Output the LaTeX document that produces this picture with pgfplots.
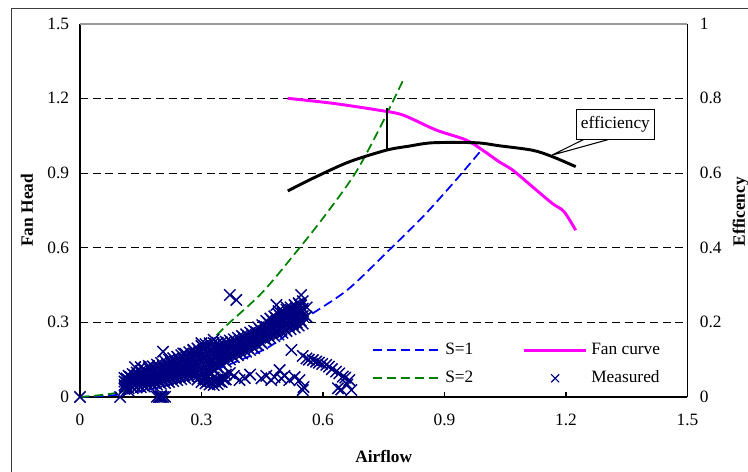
\documentclass[border=0pt]{standalone}
\usepackage{fontspec}
\setmainfont{Liberation Serif}
\usepackage{pgfplots}
\pgfplotsset{compat=1.18}
\definecolor{navyx}{RGB}{0,0,128}
\definecolor{greenS}{RGB}{0,128,0}
\definecolor{blueS}{RGB}{0,0,255}
\definecolor{fanc}{RGB}{255,0,255}
\definecolor{framec}{RGB}{60,60,60}
\newcommand\ff{\fontsize{13}{15}\selectfont}
\pgfplotsset{
  legline51/.style={legend image code/.code={\draw[##1] (0pt,0pt) -- (51pt,0pt);}},
  legline47/.style={legend image code/.code={\draw[##1] (0pt,0pt) -- (47pt,0pt);}},
  legmark47/.style={legend image code/.code={\draw[mark repeat=2, mark phase=2, ##1] plot coordinates {(0pt,0pt) (23.5pt,0pt) (47pt,0pt)};}},
}

\begin{document}
\begin{tikzpicture}
\useasboundingbox (-60pt,-55.5pt) rectangle (501pt,297.75pt);
\draw[framec, line width=0.9pt] (-51.2pt,-80pt) -- (-51.2pt,291.5pt) -- (540pt,291.5pt);

% ---- left axis: fan head ----
\begin{axis}[
  at={(0pt,0pt)}, anchor=south west,
  scale only axis, width=455.6pt, height=280pt,
  xmin=0, xmax=1.5, ymin=0, ymax=1.5,
  axis x line*=bottom, axis y line*=left,
  axis line style={-, black, line width=0.9pt},
  xtick={0,0.3,...,1.5}, ytick={0,0.3,...,1.5},
  tick align=inside, major tick length=3.5pt,
  ytick style={draw=none},
  xtick style={black, line width=0.8pt},
  ymajorgrids,
  major grid style={black, line width=0.6pt, dash pattern=on 6pt off 3.5pt},
  ticklabel style={font=\ff},
  /pgf/number format/assume math mode=true,
  /pgf/number format/fixed,
  xticklabel style={yshift=-9pt},
  yticklabel style={xshift=-4.7pt},
  clip=false,
  legend columns=2,
  legend cell align=left,
  legend style={draw=none, fill=none, inner sep=0pt,
    at={(axis cs:0.721,0.221)}, anchor=north west,
    nodes={inner sep=0pt, font=\ff, text height=9pt, text depth=3pt},
    row sep=9pt,
    /tikz/every odd column/.append style={column sep=2.5pt},
    /tikz/every even column/.append style={column sep=36.7pt}},
]

% measured
\addplot[only marks, mark=x, navyx, mark size=6pt, line width=1.1pt, forget plot] coordinates {
(0,0) (0.099,0) (0.195,0) (0.2,0) (0.205,0) (0.2,0.004) (0.198,0.002) (0.19,0.001) (0.21,0.001)
(0.111,0.041) (0.12,0.025) (0.136,0.12) (0.205,0.182) (0.255,0.175) (0.30,0.216) (0.15,0.12) (0.17,0.125)
(0.28,0.19) (0.33,0.23) (0.37,0.41) (0.386,0.39)
(0.11,0.033)(0.11,0.048)(0.11,0.062)(0.11,0.077)
(0.12,0.035)(0.12,0.052)(0.12,0.068)(0.12,0.085)
(0.13,0.036)(0.13,0.055)(0.13,0.073)(0.13,0.092)
(0.14,0.038)(0.14,0.058)(0.14,0.078)(0.14,0.098)
(0.15,0.040)(0.15,0.061)(0.15,0.083)(0.15,0.104)
(0.16,0.042)(0.16,0.065)(0.16,0.087)(0.16,0.110)
(0.17,0.044)(0.17,0.068)(0.17,0.092)(0.17,0.116)
(0.18,0.047)(0.18,0.072)(0.18,0.098)(0.18,0.123)
(0.19,0.050)(0.19,0.077)(0.19,0.103)(0.19,0.130)
(0.20,0.053)(0.20,0.081)(0.20,0.109)(0.20,0.137)
(0.21,0.056)(0.21,0.085)(0.21,0.115)(0.21,0.144)
(0.22,0.060)(0.22,0.090)(0.22,0.120)(0.22,0.150)
(0.23,0.064)(0.23,0.095)(0.23,0.125)(0.23,0.156)
(0.24,0.068)(0.24,0.099)(0.24,0.131)(0.24,0.162)
(0.25,0.072)(0.25,0.104)(0.25,0.136)(0.25,0.168)
(0.26,0.076)(0.26,0.109)(0.26,0.141)(0.26,0.174)
(0.27,0.080)(0.27,0.113)(0.27,0.147)(0.27,0.180)
(0.28,0.083)(0.28,0.118)(0.28,0.152)(0.28,0.187)
(0.29,0.085)(0.29,0.122)(0.29,0.158)(0.29,0.195)
(0.30,0.085)(0.30,0.125)(0.30,0.165)(0.30,0.205)
(0.31,0.088)(0.31,0.130)(0.31,0.170)(0.31,0.212)
(0.32,0.096)(0.32,0.136)(0.32,0.176)(0.32,0.216)
(0.33,0.107)(0.33,0.144)(0.33,0.180)(0.33,0.217)
(0.34,0.118)(0.34,0.151)(0.34,0.185)(0.34,0.218)
(0.35,0.130)(0.35,0.160)(0.35,0.190)(0.35,0.220)
(0.36,0.142)(0.36,0.169)(0.36,0.195)(0.36,0.222)
(0.37,0.151)(0.37,0.176)(0.37,0.202)(0.37,0.227)
(0.38,0.160)(0.38,0.184)(0.38,0.208)(0.38,0.232)
(0.39,0.168)(0.39,0.191)(0.39,0.215)(0.39,0.238)
(0.40,0.175)(0.40,0.198)(0.40,0.222)(0.40,0.245)
(0.41,0.182)(0.41,0.205)(0.41,0.229)(0.41,0.252)
(0.42,0.189)(0.42,0.212)(0.42,0.236)(0.42,0.259)
(0.43,0.196)(0.43,0.219)(0.43,0.243)(0.43,0.266)
(0.44,0.208)(0.44,0.232)(0.44,0.256)(0.44,0.280)
(0.45,0.215)(0.45,0.240)(0.45,0.264)(0.45,0.289)
(0.46,0.230)(0.46,0.255)(0.46,0.281)(0.46,0.306)
(0.47,0.237)(0.47,0.263)(0.47,0.289)(0.47,0.315)
(0.48,0.244)(0.48,0.271)(0.48,0.297)(0.48,0.324)
(0.49,0.251)(0.49,0.278)(0.49,0.306)(0.49,0.333)
(0.50,0.258)(0.50,0.286)(0.50,0.314)(0.50,0.342)
(0.51,0.265)(0.51,0.294)(0.51,0.322)(0.51,0.351)
(0.52,0.272)(0.52,0.301)(0.52,0.331)(0.52,0.360)
(0.53,0.279)(0.53,0.309)(0.53,0.339)(0.53,0.369)
(0.54,0.287)(0.54,0.317)(0.54,0.347)(0.54,0.377)
(0.55,0.295)(0.55,0.325)(0.55,0.355)(0.55,0.385)
(0.115,0.042)(0.115,0.058)(0.115,0.074)
(0.125,0.045)(0.125,0.062)(0.125,0.080)
(0.135,0.047)(0.135,0.066)(0.135,0.086)
(0.145,0.049)(0.145,0.070)(0.145,0.091)
(0.155,0.051)(0.155,0.074)(0.155,0.096)
(0.165,0.055)(0.165,0.078)(0.165,0.102)
(0.175,0.058)(0.175,0.082)(0.175,0.108)
(0.185,0.061)(0.185,0.087)(0.185,0.114)
(0.195,0.065)(0.195,0.092)(0.195,0.120)
(0.205,0.069)(0.205,0.097)(0.205,0.126)
(0.215,0.073)(0.215,0.102)(0.215,0.132)
(0.225,0.077)(0.225,0.107)(0.225,0.138)
(0.235,0.082)(0.235,0.112)(0.235,0.143)
(0.245,0.086)(0.245,0.117)(0.245,0.149)
(0.255,0.090)(0.255,0.122)(0.255,0.155)
(0.265,0.094)(0.265,0.127)(0.265,0.160)
(0.275,0.098)(0.275,0.132)(0.275,0.166)
(0.285,0.101)(0.285,0.137)(0.285,0.173)
(0.295,0.104)(0.295,0.143)(0.295,0.182)
(0.305,0.107)(0.305,0.148)(0.305,0.190)
(0.315,0.112)(0.315,0.153)(0.315,0.195)
(0.325,0.120)(0.325,0.158)(0.325,0.198)
(0.335,0.130)(0.335,0.165)(0.335,0.200)
(0.345,0.140)(0.345,0.172)(0.345,0.204)
(0.355,0.150)(0.355,0.178)(0.355,0.208)
(0.365,0.160)(0.365,0.186)(0.365,0.212)
(0.375,0.168)(0.375,0.193)(0.375,0.218)
(0.385,0.176)(0.385,0.200)(0.385,0.224)
(0.395,0.183)(0.395,0.207)(0.395,0.231)
(0.405,0.190)(0.405,0.214)(0.405,0.238)
(0.415,0.197)(0.415,0.221)(0.415,0.245)
(0.425,0.204)(0.425,0.228)(0.425,0.252)
(0.435,0.213)(0.435,0.237)(0.435,0.261)
(0.445,0.222)(0.445,0.246)(0.445,0.270)
(0.455,0.235)(0.455,0.260)(0.455,0.285)
(0.465,0.246)(0.465,0.272)(0.465,0.298)
(0.475,0.253)(0.475,0.280)(0.475,0.306)
(0.485,0.261)(0.485,0.288)(0.485,0.315)
(0.495,0.268)(0.495,0.296)(0.495,0.324)
(0.505,0.276)(0.505,0.304)(0.505,0.332)
(0.515,0.283)(0.515,0.312)(0.515,0.341)
(0.525,0.291)(0.525,0.320)(0.525,0.350)
(0.535,0.299)(0.535,0.328)(0.535,0.358)
(0.545,0.307)(0.545,0.336)(0.545,0.366)
(0.30,0.060)(0.31,0.055)(0.31,0.070)(0.32,0.050)(0.32,0.065)(0.33,0.048)(0.33,0.062)(0.33,0.078)
(0.34,0.052)(0.34,0.070)(0.35,0.060)(0.35,0.080)(0.36,0.070)(0.36,0.090)(0.37,0.096)(0.38,0.085)
(0.305,0.075)(0.315,0.062)(0.325,0.058)(0.335,0.070)(0.345,0.062)(0.29,0.070)(0.355,0.072)
(0.394,0.068)(0.407,0.076)(0.42,0.090)(0.448,0.075)(0.46,0.085)(0.472,0.068)(0.48,0.080)
(0.493,0.108)(0.497,0.075)(0.505,0.085)(0.517,0.068)(0.53,0.080)(0.542,0.068)(0.55,0.028)(0.552,0.040)
(0.522,0.189)(0.55,0.165)(0.559,0.155)(0.565,0.150)(0.575,0.148)(0.583,0.142)(0.59,0.138)
(0.598,0.133)(0.608,0.129)(0.615,0.122)(0.622,0.112)(0.632,0.102)(0.64,0.095)(0.649,0.082)
(0.655,0.078)(0.665,0.068)(0.67,0.028)(0.637,0.035)(0.645,0.030)(0.66,0.05)
(0.485,0.37)(0.546,0.41)(0.542,0.37)(0.5,0.337)(0.542,0.336)(0.559,0.323)(0.52,0.35)
(0.53,0.33)(0.51,0.36)(0.49,0.345)(0.55,0.345)(0.56,0.36)
};

% S=1
\addplot[blueS, line width=1.3pt, dash pattern=on 7pt off 3.5pt, smooth, forget plot] coordinates {
(0,0) (0.1,0.01) (0.2,0.04) (0.3,0.09) (0.36,0.125) (0.46,0.195) (0.53,0.275) (0.56,0.32)
(0.66,0.43) (0.76,0.585) (0.85,0.73) (0.93,0.875) (0.99,0.99)
};
% S=2
\addplot[greenS, line width=1.3pt, dash pattern=on 7pt off 3.5pt, smooth, forget plot] coordinates {
(0,0) (0.1,0.02) (0.2,0.08) (0.3,0.19) (0.36,0.285) (0.45,0.42) (0.54,0.595) (0.61,0.74)
(0.68,0.9) (0.74,1.08) (0.80,1.28)
};
% fan curve
\addplot[fanc, line width=2.2pt, smooth, forget plot] coordinates {
(0.513,1.20) (0.624,1.180) (0.735,1.153) (0.797,1.133) (0.879,1.073) (0.953,1.033)
(0.994,0.992) (1.035,0.945) (1.068,0.912) (1.117,0.845) (1.166,0.778) (1.195,0.745) (1.224,0.67)
};
% marker line between fan curve and efficiency
\addplot[black, line width=0.8pt, forget plot] coordinates {(0.758,0.992) (0.758,1.16)};

\draw[gray!80, line width=1.4pt] (rel axis cs:0,1) -- (rel axis cs:1,1);

\addlegendimage{blueS, line width=1.3pt, dash pattern=on 7pt off 3.5pt, legline51}
\addlegendentry{S=1}
\addlegendimage{fanc, line width=2.2pt, legline47}
\addlegendentry{Fan curve}
\addlegendimage{greenS, line width=1.3pt, dash pattern=on 7pt off 3.5pt, legline51}
\addlegendentry{S=2}
\addlegendimage{only marks, mark=x, navyx, mark size=4.2pt, line width=0.9pt, legmark47}
\addlegendentry{Measured}
\end{axis}

% ---- right axis: efficiency ----
\begin{axis}[
  at={(0pt,0pt)}, anchor=south west,
  scale only axis, width=455.6pt, height=280pt,
  xmin=0, xmax=1.5, ymin=0, ymax=1,
  axis x line=none, axis y line*=right,
  axis line style={-, black, line width=0.9pt},
  ytick={0,0.2,0.4,0.6,0.8,1},
  ytick style={draw=none},
  ticklabel style={font=\ff},
  /pgf/number format/assume math mode=true,
  /pgf/number format/fixed,
  yticklabel style={xshift=5.8pt},
  clip=false,
]
\addplot[black, line width=2.2pt, smooth] coordinates {
(0.513,0.552) (0.583,0.590) (0.665,0.630) (0.756,0.661) (0.813,0.672) (0.871,0.681)
(0.978,0.681) (1.035,0.673) (1.117,0.661) (1.166,0.644) (1.224,0.617)
};
\draw[black, fill=white, line width=0.8pt] (axis cs:1.244,0.690) -- (axis cs:1.166,0.648) -- (axis cs:1.306,0.690);
\node[draw=black, fill=white, line width=0.8pt, font=\ff, minimum width=59pt, minimum height=22pt, inner sep=0pt]
  at (axis cs:1.322,0.730) {efficiency};
\end{axis}

\node[font=\ff\bfseries] at (227.8pt,-44.25pt) {Airflow};
\node[font=\ff\bfseries, rotate=90] at (-39.75pt,140pt) {Fan Head};
\node[font=\ff\bfseries, rotate=90] at (495.4pt,139pt) {Efficency};
\end{tikzpicture}
\end{document}
